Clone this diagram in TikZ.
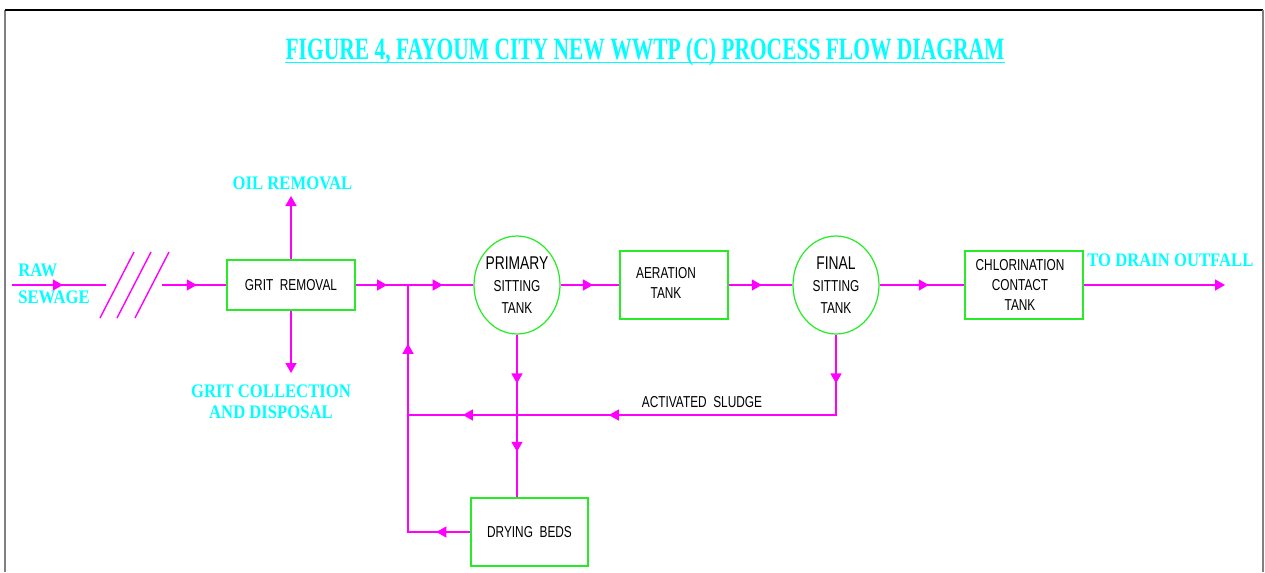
\documentclass[tikz,border=0pt]{standalone}
\usepackage{fontspec}
\usetikzlibrary{arrows.meta,shapes.geometric,decorations.markings}

\newfontfamily\cadfont[FakeStretch=0.75]{Liberation Sans}
\newfontfamily\lblfont[FakeStretch=0.87]{Liberation Serif}
\newfontfamily\ttlfont[FakeStretch=0.695]{Liberation Serif}

\definecolor{pipe}{RGB}{255,0,255}
\definecolor{tankline}{RGB}{40,235,40}
\definecolor{lblcyan}{RGB}{0,255,255}

\tikzset{
    >={Triangle[length=0.2cm,width=0.22cm]},
    pipe/.style={draw=pipe, line width=0.8pt},
    mid/.style={postaction={decorate,decoration={markings,
        mark=at position #1 with {\arrow[pipe]{>}}}}},
    unit/.style={draw=tankline, line width=0.7pt, inner sep=0pt},
    tank/.style={unit, ellipse, minimum width=1.72cm, minimum height=1.96cm},
    tanktext/.style={font=\cadfont\fontsize{9}{12.5}\selectfont, align=center},
    cadtext/.style={font=\cadfont\fontsize{9}{11.5}\selectfont, align=center},
    cyanlbl/.style={text=lblcyan, font=\lblfont\bfseries\fontsize{10.9}{12}\selectfont, inner sep=0pt}
}

\begin{document}
\begin{tikzpicture}[x=0.02cm, y=-0.02cm]
    \useasboundingbox (0,0) rectangle (1265,572);

    % rahmen
    \draw[gray, line width=0.8pt] (5,572) -- (5,10);
    \draw[black, line width=0.8pt] (5,10) -- (1263,10);
    \draw[gray, line width=0.8pt] (1263,10) -- (1263,572);

    % titel
    \node[text=lblcyan, font=\ttlfont\bfseries\fontsize{17.6}{20}\selectfont, inner sep=0pt]
        (title) at (645,52) {FIGURE 4, FAYOUM CITY NEW WWTP (C) PROCESS FLOW DIAGRAM};
    \draw[lblcyan, line width=0.8pt] ([yshift=-0.06cm]title.base west) -- ([yshift=-0.06cm]title.base east);

    % einheiten
    \node[unit, cadtext, minimum width=2.56cm, minimum height=1.0cm] (grit) at (291,285) {GRIT\ \ REMOVAL};
    \node[tank, label={[tanktext]center:{{\fontsize{10.5}{12.5}\selectfont PRIMARY}\\SITTING\\TANK}}] (prim) at (517,285) {};
    \node[unit, cadtext, minimum width=2.16cm, minimum height=1.36cm,
        label={[cadtext, xshift=-0.16cm, yshift=0.04cm]center:{AERATION\\TANK}}] (aer) at (674,285) {};
    \node[tank, label={[tanktext]center:{{\fontsize{10.5}{12.5}\selectfont FINAL}\\SITTING\\TANK}}] (fin) at (836,285) {};
    \node[unit, cadtext, minimum width=2.36cm, minimum height=1.36cm,
        label={[cadtext, xshift=-0.08cm]center:{CHLORINATION\\CONTACT\\TANK}}] (chl) at (1024,285) {};
    \node[unit, cadtext, minimum width=2.34cm, minimum height=1.36cm] (dry) at (529.5,532) {DRYING\ \ BEDS};

    % beschriftungen
    \node[cyanlbl, align=left, anchor=west, font=\lblfont\bfseries\fontsize{10.9}{15.4}\selectfont]
        (raw) at (18,283.5) {RAW\\SEWAGE};
    \node[cyanlbl] (oillbl) at (292.5,183) {OIL REMOVAL};
    \node[cyanlbl, align=center] (gritlbl) at (271,401.5) {GRIT COLLECTION\\AND DISPOSAL};
    \node[cyanlbl, anchor=west] (drainlbl) at (1087,260) {TO DRAIN OUTFALL};
    \node[cadtext] (sludgelbl) at (702,402) {ACTIVATED\ \ SLUDGE};

    % hilfspunkte
    \coordinate (rawin) at (12,285);
    \coordinate (brkL) at (106,285);
    \coordinate (brkR) at (162,285);
    \coordinate (jn) at (408,285);
    \coordinate (oil) at (291,196);
    \coordinate (gritout) at (291,373);
    \coordinate (sl) at (836,415);
    \coordinate (ret) at (408,415);
    \coordinate (out) at (1225,285);

    % unterbrechung
    \foreach \dx in {0,17,35}
        \draw[pipe] (100+\dx,318) -- (134+\dx,252);

    % leitungen
    \draw[pipe, mid=0.54] (rawin) -- (brkL);
    \draw[pipe, mid=0.54] (brkR) -- (grit.west);
    \draw[pipe, ->] (grit.north) -- (oil);
    \draw[pipe, ->] (grit.south) -- (gritout);
    \draw[pipe, mid=0.6] (grit.east) -- (jn);
    \draw[pipe, mid=0.53] (jn) -- (prim.west);
    \draw[pipe, mid=0.55] (prim.east) -- (aer.west);
    \draw[pipe, mid=0.52] (aer.east) -- (fin.west);
    \draw[pipe, mid=0.58] (fin.east) -- (chl.west);
    \draw[pipe, ->] (chl.east) -- (out);
    \draw[pipe, mid=0.3, mid=0.72] (prim.south) -- (prim.south |- dry.north);
    \draw[pipe, mid=0.096, mid=0.605, mid=0.892] (fin.south) -- (sl) -- (ret);
    \draw[pipe, mid=0.11, mid=0.81] (dry.west) -- (dry.west -| jn) -- (jn);

\end{tikzpicture}
\end{document}
